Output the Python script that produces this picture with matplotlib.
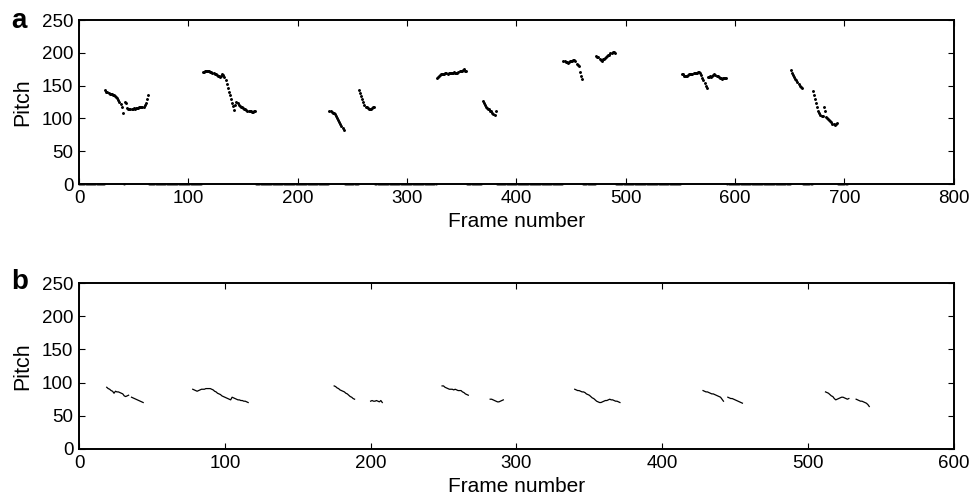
import numpy as np
import matplotlib
matplotlib.use("Agg")
import matplotlib.pyplot as plt

plt.rcParams["font.family"] = ["Liberation Sans", "DejaVu Sans"]

# ---- panel a: frame-wise pitch track (0 = unvoiced) ----
n_frames_a = 703
a_segments = {
    24: [143, 141, 140, 139, 138, 137, 137, 136, 135, 134, 133, 131, 128, 125, 122, 118,
         109, 0, 125, 124, 116, 115, 115, 114, 115, 115, 116, 115, 116, 116, 116, 117,
         117, 117, 118, 118, 120, 124, 130, 135],
    113: [171, 171, 172, 172, 172, 172, 172, 171, 171, 170, 169, 168, 167, 166, 165, 164,
          163, 165, 167, 166, 163, 158, 152, 147, 141, 136, 130, 124, 119, 113, 120, 125,
          123, 121, 119, 118, 117, 116, 115, 114, 113, 112, 112, 111, 111, 110, 110, 111, 111],
    229: [111, 111, 110, 109, 108, 106, 104, 101, 98, 95, 92, 88, 85, 82],
    256: [143, 139, 134, 129, 125, 121, 118, 117, 116, 115, 115, 115, 116, 117, 117],
    327: [162, 163, 164, 166, 167, 168, 168, 168, 169, 169, 168, 169, 170, 170, 169, 170,
          171, 170, 169, 170, 171, 172, 172, 173, 174, 175, 173, 172],
    369: [126, 124, 121, 118, 116, 115, 114, 112, 111, 109, 107, 105, 112],
    443: [188, 187, 186, 186, 185, 186, 187, 188, 188, 189, 189, 188, 183, 182, 180, 171,
          165, 160],
    473: [195, 194, 193, 191, 189, 188, 190, 191, 192, 194, 195, 196, 197, 199, 200, 202,
          201, 199],
    551: [168, 167, 165, 164, 164, 165, 166, 167, 167, 168, 168, 169, 169, 170, 170, 171,
          171, 170, 166, 162, 158, 154, 150, 147, 163, 163, 164, 163, 164, 166, 167, 166,
          165, 164, 163, 162, 161, 160, 161, 161, 162, 162],
    651: [174, 170, 166, 163, 160, 158, 156, 153, 150, 148, 147],
    671: [142, 135, 129, 124, 118, 112, 108, 105, 104, 103, 117, 112, 102, 100, 99, 97,
          96, 94, 92, 91, 90, 92, 93],
}

# ---- panel b: frame-wise pitch track (nan = no estimate) ----
nan = np.nan
n_frames_b = 560
b_segments = {
    19: [93, 91, 90, 88, 87, 84, 87, 86, 86, 85, 84, 83, 80, 79, 80, 81, nan, 78, 77, 76,
         75, 74, 73, 72, 71, 70],
    78: [90, 89, 88, 87, 88, 89, 90, 90, 90, 91, 91, 91, 91, 90, 89, 87, 86, 84, 83, 82,
         80, 79, 78, 77, 76, 75, 74, 78, 77, 76, 75, 74, 74, 73, 73, 72, 72, 71, 70],
    175: [95, 94, 92, 91, 89, 88, 87, 86, 84, 83, 81, 79, 78, 76, 75],
    200: [72, 73, 72, 72, 73, 72, 71, 73, 70],
    249: [95, 95, 93, 92, 91, 90, 90, 90, 89, 90, 89, 88, 88, 88, 86, 85, 83, 82, 81],
    282: [75, 75, 74, 73, 72, 71, 71, 72, 73, 74],
    340: [90, 89, 88, 88, 87, 86, 86, 85, 83, 82, 81, 79, 77, 76, 74, 72, 71, 70, 70, 71,
          72, 73, 73, 74, 75, 74, 74, 73, 72, 72, 71, 70],
    428: [88, 87, 86, 86, 85, 84, 83, 83, 82, 81, 80, 79, 78, 75, 72, nan, nan, 78, 77, 76,
          76, 75, 74, 73, 72, 71, 70, 69],
    512: [86, 85, 84, 82, 80, 79, 76, 74, 75, 76, 77, 78, 78, 77, 76, 75, 76, nan, nan, nan,
          nan, 75, 74, 73, 72, 72, 71, 70, 69, 67, 64],
}


def build_track(n, segments, fill):
    track = np.full(n, fill, dtype=float)
    for start, vals in segments.items():
        track[start:start + len(vals)] = vals
    return track


frames_a = np.arange(n_frames_a)
pitch_a = build_track(n_frames_a, a_segments, 0.0)
voiced = pitch_a > 0
frames_b = np.arange(n_frames_b)
pitch_b = build_track(n_frames_b, b_segments, np.nan)


def style_axes(ax, xmax, xstep):
    ax.set_xlim(0, xmax)
    ax.set_ylim(0, 250)
    ax.set_xticks(np.arange(0, xmax + 1, xstep))
    ax.set_yticks(np.arange(0, 251, 50))
    ax.tick_params(direction="in", top=True, right=True, length=4, width=0.8,
                   labelsize=13.5, pad=4, color="black")
    for sp in ax.spines.values():
        sp.set_linewidth(1.4)
    ax.set_xlabel("Frame number", fontsize=15, labelpad=4)
    ax.set_ylabel("Pitch", fontsize=15.5, labelpad=6)


fig = plt.figure(figsize=(9.72, 5.01), dpi=100)

ax_a = fig.add_axes([0.0813, 0.6327, 0.900, 0.3273])
ax_a.plot(frames_a[voiced], pitch_a[voiced], ".", color="black", markersize=2.2, zorder=3)
# unvoiced frames sit on the axis line
ax_a.plot(frames_a[~voiced], pitch_a[~voiced], ".", color="#666666", markersize=1.6,
          clip_on=False, zorder=2)
style_axes(ax_a, 800, 100)
fig.text(0.012, 0.958, "a", fontsize=20, fontweight="bold", va="center")

ax_b = fig.add_axes([0.0813, 0.1038, 0.900, 0.3313])
ax_b.plot(frames_b, pitch_b, "-", color="black", linewidth=0.9)
style_axes(ax_b, 600, 100)
fig.text(0.012, 0.438, "b", fontsize=20, fontweight="bold", va="center")

fig.savefig("out.png", dpi=100)
